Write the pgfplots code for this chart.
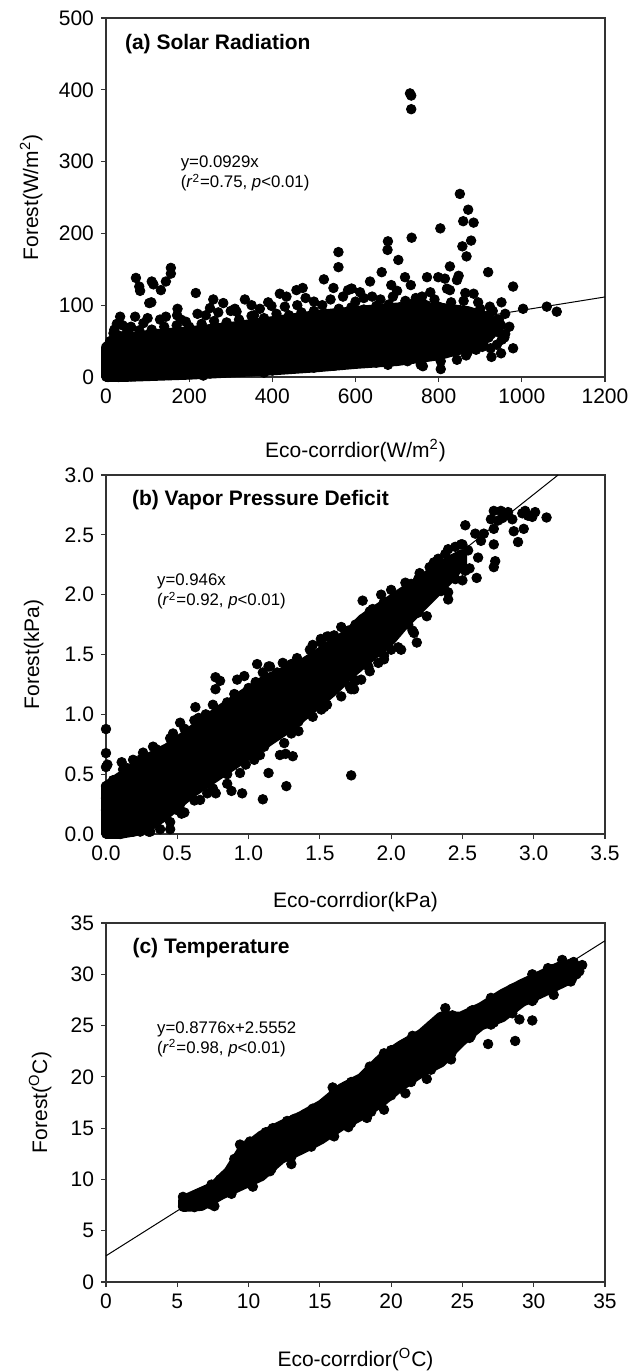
\documentclass[border=0pt]{standalone}
\usepackage{fontspec}
\setmainfont{Liberation Sans}
\usepackage{pgfplots}
\pgfplotsset{compat=1.18}
\pgfplotsset{
 panel/.style={
  width=249.5pt, height=179.5pt, scale only axis, clip=false,
  axis line style={line width=0.6pt, black!80},
  tick align=outside, xtick pos=left, ytick pos=left,
  major tick length=2.5pt, tick style={line width=0.6pt, black!80},
  tick label style={font=\fontsize{10.5}{12}\selectfont},
  label style={font=\fontsize{10.5}{12}\selectfont},
  /pgf/number format/assume math mode=true,
  /pgf/number format/1000 sep={},
  anchor=south west,
 },
 cloud/.style={fill=black, draw=black, line width=4.8pt, line join=round, mark=none},
 pts/.style={only marks, mark=*, mark size=2.4pt, black},
 reg/.style={black, line width=0.5pt, mark=none},
}
\begin{document}
\begin{tikzpicture}
\useasboundingbox (0,0) rectangle (314.5pt,-685.5pt);
% ---------------- (a) Solar radiation ----------------
\begin{axis}[panel, at={(53pt,-188.5pt)},
  xmin=0, xmax=1200, ymin=0, ymax=500,
  xtick={0,200,...,1200}, ytick={0,100,...,500},
  xlabel={Eco-corrdior(W/m\textsuperscript{2})},
  ylabel={Forest(W/m\textsuperscript{2})},
  xlabel style={at={(axis description cs:0.5,-0.205)}, anchor=center},
  ylabel style={at={(axis description cs:-0.150,0.5)}, anchor=center}]
\addplot[cloud] coordinates {(0,0) (0,42) (20,50) (60,56) (120,60) (200,64) (300,70) (400,78) (500,86) (600,92) (700,97) (800,97) (870,92) (915,84) (935,72) (928,60) (898,48) (850,38) (800,30) (750,26) (700,22) (600,18) (500,13) (400,9) (300,6) (200,3) (100,1) (50,0)} -- cycle;
\addplot[pts] coordinates {
(731,395) (734,392) (734,373) (851,255) (871,233) (859,217) (884,215) (878,190) (857,182) (867,168)
(804,207) (735,194) (678,189) (677,177) (703,163) (663,146) (635,133) (590,123) (582,121) (559,174)
(559,153) (719,139) (733,128) (686,128) (772,139) (799,139) (815,137) (827,154) (848,141) (844,135)
(820,123) (827,121) (864,117) (884,116) (919,146) (979,126) (951,104) (1003,95) (1060,98) (1084,91)
(923,98) (895,104) (979,40) (950,33) (927,28) (958,55) (952,52) (907,47) (905,42) (866,30) (844,24)
(805,22) (805,11) (757,17) (762,15) (725,22) (678,17) (72,138) (80,126) (82,120) (110,133) (114,129)
(132,121) (144,133) (156,152) (156,144) (104,103) (109,104) (70,84) (34,84) (26,74) (18,61) (55,61)
(172,95) (171,86) (144,84) (192,77) (216,117) (250,96) (258,108) (282,103) (334,108) (314,91) (356,86)
(398,99) (418,116) (434,112) (458,121) (473,124) (524,136) (547,124) (591,123) (380,6) (234,2)
(770,97) (760,112) (611,118) (620,110) (700,120) (745,110) (780,118) (640,112) (500,105) (460,100)
(540,108) (370,95) (300,92) (220,88) (130,80) (90,75) (60,70)
(10,50) (30,58) (50,62) (80,65) (110,66) (140,70) (170,72) (200,70) (230,74) (260,78) (290,76) (320,80)
(350,85) (380,82) (410,88) (440,86) (470,90) (500,92) (530,88) (560,95) (590,97) (620,94) (650,99)
(680,101) (710,98) (740,103) (770,100) (800,98) (830,96) (860,92) (890,88) (920,86) (940,80) (950,72) (945,62)
(5,0) (30,0) (60,1) (100,2) (150,3) (200,4) (250,5) (300,7) (350,8) (400,9) (450,12) (500,13) (550,16)
(600,19) (650,20) (700,23) (750,27) (800,30) (850,38) (890,45) (920,55) (935,65)
(310,95) (350,100) (390,104) (430,98) (480,110) (520,100) (570,112) (600,105) (660,108) (690,112)
(720,106) (760,104) (790,108) (830,104) (860,106) (900,95) (930,92) (960,88) (945,80) (970,70)
(960,60) (940,45) (925,40) (890,38) (870,35) (40,72) (20,66) (100,82) (180,80) (240,86) (270,90)};
\addplot[reg] coordinates {(0,0) (1200,111.5)};
\node[anchor=west, font=\bfseries\fontsize{10.5}{12}\selectfont] at (rel axis cs:0.024,0.928) {(a) Solar Radiation};
\node[anchor=west, align=left, font=\fontsize{8.4}{10}\selectfont, inner sep=0pt] at (axis cs:179,283) {y=0.0929x\\(\textit{r}\textsuperscript{2}=0.75, \textit{p}<0.01)};
\end{axis}
% ---------------- (b) VPD ----------------
\begin{axis}[panel, at={(53pt,-417pt)},
  xmin=0, xmax=3.5, ymin=0, ymax=3,
  xtick={0,0.5,...,3.5}, ytick={0,0.5,...,3},
  /pgf/number format/.cd, fixed, fixed zerofill, precision=1, /pgfplots/.cd,
  xlabel={Eco-corrdior(kPa)},
  ylabel={Forest(kPa)},
  xlabel style={at={(axis description cs:0.5,-0.19)}, anchor=center},
  ylabel style={at={(axis description cs:-0.145,0.5)}, anchor=center}]
\addplot[cloud] coordinates {(0,0) (0,0.40) (0.1,0.48) (0.2,0.56) (0.3,0.64) (0.43,0.72) (0.55,0.82) (0.66,0.92) (0.8,1.04) (0.9,1.12) (1.0,1.20) (1.13,1.3) (1.25,1.36) (1.37,1.42) (1.5,1.52) (1.6,1.6) (1.7,1.68) (1.8,1.80) (1.9,1.88) (2.0,1.96) (2.1,2.04) (2.2,2.12) (2.3,2.2) (2.4,2.28) (2.5,2.34)
 (2.5,2.26) (2.4,2.12) (2.3,2.0) (2.2,1.88) (2.1,1.76) (2.0,1.62) (1.9,1.52) (1.8,1.42) (1.7,1.32) (1.6,1.2) (1.5,1.1) (1.4,1.0) (1.3,0.9) (1.2,0.82) (1.1,0.74) (1.0,0.66) (0.9,0.58) (0.8,0.5) (0.7,0.42) (0.6,0.34) (0.5,0.24) (0.4,0.14) (0.3,0.06) (0.2,0.02) (0.1,0)} -- cycle;
\addplot[pts] coordinates {
(0,0.877) (0,0.676) (0.01,0.58) (0,0.56) (0.11,0.60) (0.627,1.06) (0.768,1.31) (0.768,1.21) (0.80,1.28)
(1.06,1.42) (1.14,1.40) (1.24,1.43) (1.31,0.65) (1.26,0.67) (1.22,0.66) (1.14,0.51) (1.10,0.29) (0.955,0.34)
(1.265,0.40) (1.72,0.49) (1.72,1.21) (1.71,1.23) (1.74,1.29) (1.65,1.73) (1.507,1.63) (1.55,1.65)
(0.71,0.34) (0.77,0.34) (0.66,0.285) (0.85,0.42) (0.88,0.36) (0.52,0.25) (0.53,0.17) (0.45,0.04) (0.38,0.04)
(0.31,0.02) (0.24,0.02) (0.19,0.02) (0.33,0.13) (0.50,0.20) (1.51,1.04) (1.53,1.06) (1.41,1.01) (1.35,0.94)
(1.30,0.84) (1.18,0.82) (1.11,0.73) (1.04,0.62) (0.94,0.51) (0.52,0.93) (0.47,0.84) (0.33,0.73) (0.26,0.68)
(0.19,0.62) (0.12,0.54) (0.05,0.45) (0,0.40) (0.92,1.29) (0.97,1.32) (1.15,1.40) (1.34,1.47) (1.43,1.54)
(3.09,2.645) (3.01,2.69) (2.94,2.70) (2.99,2.65) (2.96,2.66) (2.89,2.44) (2.86,2.53) (2.93,2.55) (2.77,2.70)
(2.82,2.69) (2.72,2.70) (2.70,2.63) (2.75,2.62) (2.72,2.55) (2.65,2.51) (2.52,2.58) (2.59,2.51) (2.63,2.45)
(2.72,2.42) (2.73,2.28) (2.72,2.23) (2.49,2.42) (2.54,2.37) (2.61,2.31) (2.60,2.14) (2.52,2.20) (2.40,2.38)
(2.41,2.25) (2.33,2.30) (2.27,2.23) (2.26,2.16) (2.31,2.10) (2.40,2.17) (2.45,2.13) (2.35,2.03) (2.40,1.96)
(2.19,2.13) (2.14,2.09) (2.00,2.04) (1.93,2.00) (1.80,1.95) (1.87,1.88) (2.26,1.96) (2.19,1.85) (2.12,1.75)
(2.16,1.68) (2.18,1.60) (2.07,1.54) (2.00,1.54) (1.95,1.49) (1.91,1.43) (1.84,1.40) (1.79,1.29) (1.74,1.21)
(1.56,1.65) (1.51,1.60) (0.02,0.1) (0,0.2) (0,0.3) (0.05,0.05) (0.1,0) (0.62,0.95) (0.70,1.00) (0.85,1.10)
(1.00,1.22) (1.20,1.35) (1.70,1.70) (1.75,1.75) (1.9,1.85) (2.05,1.98) (2.80,2.66) (2.85,2.63) (2.92,2.68) (2.78,2.64)
(0.15,0.55) (0.25,0.63) (0.35,0.71) (0.45,0.80) (0.55,0.88) (0.65,0.97) (0.75,1.08) (0.9,1.17) (1.05,1.27)
(1.1,1.35) (1.3,1.42) (1.45,1.58) (1.6,1.66) (1.65,1.62) (1.85,1.86) (1.95,1.94) (2.1,2.1) (2.2,2.18)
(2.3,2.27) (2.38,2.34) (2.45,2.4) (2.5,2.42)
(0.3,0.02) (0.45,0.1) (0.55,0.18) (0.62,0.28) (0.75,0.38) (0.85,0.5) (0.98,0.58) (1.08,0.66) (1.25,0.76)
(1.35,0.86) (1.45,0.98) (1.55,1.08) (1.65,1.15) (1.75,1.28) (1.85,1.36) (1.95,1.46) (2.05,1.56) (2.15,1.7)
(2.25,1.82) (2.4,2.02) (2.5,2.12) (2.55,2.22)};
\addplot[reg] coordinates {(0,0) (3.171,3)};
\node[anchor=west, font=\bfseries\fontsize{10.5}{12}\selectfont] at (rel axis cs:0.038,0.93) {(b) Vapor Pressure Deficit};
\node[anchor=west, align=left, font=\fontsize{8.4}{10}\selectfont, inner sep=0pt] at (axis cs:0.356,2.025) {y=0.946x\\(\textit{r}\textsuperscript{2}=0.92, \textit{p}<0.01)};
\end{axis}
% ---------------- (c) Temperature ----------------
\begin{axis}[panel, at={(53pt,-641pt)},
  xmin=0, xmax=35, ymin=0, ymax=35,
  xtick={0,5,...,35}, ytick={0,5,...,35},
  xlabel={Eco-corrdior(\textsuperscript{O}C)},
  ylabel={Forest(\textsuperscript{O}C)},
  xlabel style={at={(axis description cs:0.5,-0.215)}, anchor=center},
  ylabel style={at={(axis description cs:-0.132,0.5)}, anchor=center}]
\addplot[cloud] coordinates {(5.4,8.0) (7.5,9.3) (8.6,10.8) (9.5,12.8) (10.9,14.3) (12.3,15.3) (13.7,16.2) (15.1,17.3) (16.5,18.9) (17.9,19.9) (19.3,21.8) (20.7,23.1) (22.1,24.2) (23.5,25.9) (24.9,25.9) (26.3,26.8) (27.8,28.1) (29.2,29.1) (30.6,30.0) (32.0,30.9) (33.0,30.8)
 (33.0,30.2) (32.4,29.4) (30.6,28.2) (29.2,27.3) (27.8,25.8) (26.3,25.0) (24.9,23.4) (23.5,21.4) (22.1,20.4) (20.7,19.1) (19.3,17.5) (17.9,16.2) (16.5,15.2) (15.1,13.9) (13.7,12.9) (12.3,12.0) (10.9,10.3) (9.5,9.4) (8.1,8.5) (6.7,7.4) (5.4,7.3)} -- cycle;
\addplot[pts] coordinates {
(26.8,23.2) (28.7,23.5) (29.9,25.5) (29.0,25.6) (23.8,26.7) (33.4,30.9) (33.2,30.3) (32.6,29.3) (31.4,28.0)
(32.0,31.4) (32.8,31.2) (5.4,8.3) (5.4,7.4) (5.6,7.8) (7.4,9.5) (7.6,7.4) (6.2,7.3) (11.2,14.6) (10.1,13.7)
(9.4,13.4) (9.3,12.2) (8.8,11.0) (8.6,10.2) (15.9,18.97) (16.0,18.6) (19.5,16.8) (18.3,16.0) (19.5,22.3)
(21.5,24.0) (22.5,24.3) (18.5,21.0) (14.0,16.4) (12.7,15.7) (13.0,11.5) (11.5,10.8) (10.3,9.3) (16.0,14.2)
(17.0,15.1) (21.0,18.4) (22.5,19.8) (24.2,21.7) (25.5,23.8) (27.2,25.3) (28.5,26.4) (30.0,27.6) (31.5,29.0)
(27.0,27.7) (25.7,26.5) (29.9,30.0) (31.0,30.6) (33.0,30.0)
(6.5,8.6) (8.0,10.0) (9.0,12.0) (10.0,13.5) (11.7,15.0) (13.2,15.9) (14.5,16.9) (15.8,17.8) (17.2,19.5)
(18.6,20.9) (20.0,22.6) (21.4,23.6) (22.8,25.0) (24.3,26.0) (25.6,26.4) (27.0,27.5) (28.5,28.6) (29.9,29.6)
(31.3,30.5) (32.5,31.0)
(7.3,7.6) (8.8,8.6) (10.2,9.5) (11.6,11.0) (13.0,12.2) (14.4,13.2) (15.8,14.4) (17.2,15.5) (18.6,16.6)
(20.0,18.2) (21.4,19.5) (22.8,20.7) (24.2,22.2) (25.6,24.0) (27.0,25.1) (28.5,26.2) (29.9,27.4) (31.3,28.5) (32.7,29.6)};
\addplot[reg] coordinates {(0,2.5552) (35,33.271)};
\node[anchor=west, font=\bfseries\fontsize{10.5}{12}\selectfont] at (rel axis cs:0.039,0.93) {(c) Temperature};
\node[anchor=west, align=left, font=\fontsize{8.4}{10}\selectfont, inner sep=0pt] at (axis cs:3.56,23.7) {y=0.8776x+2.5552\\(\textit{r}\textsuperscript{2}=0.98, \textit{p}<0.01)};
\end{axis}
\end{tikzpicture}
\end{document}
